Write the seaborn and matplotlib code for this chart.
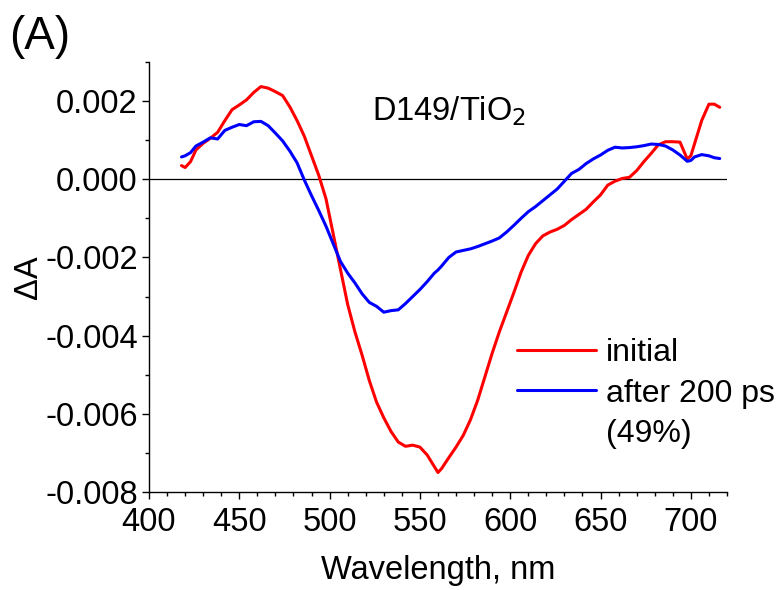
import numpy as np
import pandas as pd
import matplotlib
matplotlib.use("Agg")
import matplotlib.pyplot as plt
from matplotlib.ticker import MultipleLocator, FormatStrFormatter
from matplotlib.lines import Line2D
import seaborn as sns

# Transient absorption spectra of D149 on TiO2
wavelength = [418, 420, 423, 426, 430, 434, 438, 442, 446, 450, 454, 458, 462, 466,
              470, 474, 478, 482, 486, 490, 494, 498, 502, 506, 510, 514, 518, 522,
              526, 530, 534, 538, 542, 546, 550, 554, 558, 560, 562, 566, 570, 574,
              578, 582, 586, 590, 594, 598, 602, 606, 610, 614, 618, 622, 626, 630,
              634, 638, 642, 646, 650, 654, 658, 662, 666, 670, 674, 678, 682, 686,
              690, 694, 698, 700, 702, 706, 710, 713, 716]

initial = [0.00035, 0.00030, 0.00045, 0.00075, 0.00092, 0.00105, 0.00120, 0.00150,
           0.00178, 0.00190, 0.00203, 0.00222, 0.00237, 0.00233, 0.00224, 0.00214,
           0.00185, 0.00150, 0.00110, 0.00060, 0.00010, -0.00050, -0.00140, -0.00230,
           -0.00320, -0.00390, -0.00450, -0.00515, -0.00570, -0.00610, -0.00645,
           -0.00672, -0.00683, -0.00680, -0.00685, -0.00705, -0.00735, -0.00750,
           -0.00740, -0.00712, -0.00685, -0.00655, -0.00615, -0.00565, -0.00505,
           -0.00445, -0.00390, -0.00340, -0.00290, -0.00238, -0.00195, -0.00165,
           -0.00145, -0.00135, -0.00128, -0.00118, -0.00103, -0.00090, -0.00077,
           -0.00058, -0.00040, -0.00015, -0.00005, 0.00002, 0.00005, 0.00022,
           0.00045, 0.00066, 0.00088, 0.00096, 0.00096, 0.00095, 0.00052, 0.00060,
           0.00090, 0.00150, 0.00192, 0.00192, 0.00184]

after_200ps = [0.00057, 0.00060, 0.00068, 0.00085, 0.00095, 0.00106, 0.00103, 0.00125,
               0.00133, 0.00140, 0.00137, 0.00147, 0.00148, 0.00137, 0.00118, 0.00098,
               0.00072, 0.00042, -0.00002, -0.00042, -0.00080, -0.00120, -0.00165,
               -0.00210, -0.00240, -0.00265, -0.00293, -0.00315, -0.00325, -0.00340,
               -0.00336, -0.00334, -0.00318, -0.00300, -0.00282, -0.00262, -0.00240,
               -0.00232, -0.00222, -0.00200, -0.00186, -0.00182, -0.00178, -0.00172,
               -0.00165, -0.00158, -0.00150, -0.00135, -0.00118, -0.00100, -0.00083,
               -0.00070, -0.00055, -0.00040, -0.00025, -0.00005, 0.00015, 0.00025,
               0.00040, 0.00052, 0.00062, 0.00074, 0.00082, 0.00080, 0.00081, 0.00083,
               0.00086, 0.00090, 0.00089, 0.00085, 0.00075, 0.00062, 0.00046, 0.00048,
               0.00057, 0.00063, 0.00060, 0.00055, 0.00053]

series_names = ["initial", "after 200 ps"]
legend_labels = ["initial", "after 200 ps", "(49%)"]
x_ticks = [400, 450, 500, 550, 600, 650, 700]
y_ticks = [-0.008, -0.006, -0.004, -0.002, 0.000, 0.002]

df = pd.concat([
    pd.DataFrame({"Wavelength": wavelength, "dA": initial, "series": series_names[0]}),
    pd.DataFrame({"Wavelength": wavelength, "dA": after_200ps, "series": series_names[1]}),
])

sns.set_style("ticks")
plt.rcParams["font.family"] = ["Liberation Sans", "DejaVu Sans"]
plt.rcParams["axes.unicode_minus"] = False
plt.rcParams["text.color"] = "black"
plt.rcParams["axes.labelcolor"] = "black"

FS = 23.5

fig = plt.figure(figsize=(7.8, 5.9), dpi=100)
ax = fig.add_axes([0.191, 0.166, 0.741, 0.729])

sns.lineplot(data=df, x="Wavelength", y="dA", hue="series", hue_order=series_names,
             palette={"initial": "#ff0000", "after 200 ps": "#0000ff"},
             linewidth=2.2, sort=True, estimator=None, legend=False, ax=ax)

ax.axhline(0, color="black", linewidth=0.9, zorder=0)

ax.set_xlim(400, 720)
ax.set_ylim(-0.008, 0.003)
ax.set_xticks(x_ticks)
ax.set_yticks(y_ticks)
ax.xaxis.set_minor_locator(MultipleLocator(10))
ax.yaxis.set_minor_locator(MultipleLocator(0.001))
ax.yaxis.set_major_formatter(FormatStrFormatter("%.3f"))

for side in ("top", "right"):
    ax.spines[side].set_visible(False)
for side in ("left", "bottom"):
    ax.spines[side].set_linewidth(1.0)
    ax.spines[side].set_color("black")

ax.tick_params(which="major", direction="out", length=5, width=1.0,
               labelsize=FS, colors="black", pad=3)
ax.tick_params(axis="x", which="major", pad=6)
ax.tick_params(which="minor", direction="out", length=3, width=1.0, colors="black")

ax.set_xlabel("Wavelength, nm", fontsize=FS, labelpad=12)
ax.set_ylabel("ΔA", fontsize=FS, labelpad=1)

ax.text(0.52, 0.885, "D149/TiO$_2$", transform=ax.transAxes, fontsize=FS,
        ha="center", va="center")
fig.text(0.012, 0.937, "(A)", fontsize=33, ha="left", va="center")

lines = ax.get_lines()
handles = [lines[0], lines[1], Line2D([], [], color="none")]
leg = ax.legend(handles, legend_labels, loc="upper left",
                bbox_to_anchor=(0.636, 0.358), frameon=False, fontsize=23,
                handlelength=2.5, handletextpad=0.3, labelspacing=0.33,
                borderpad=0, borderaxespad=0)

fig.savefig("out.png", dpi=100)
